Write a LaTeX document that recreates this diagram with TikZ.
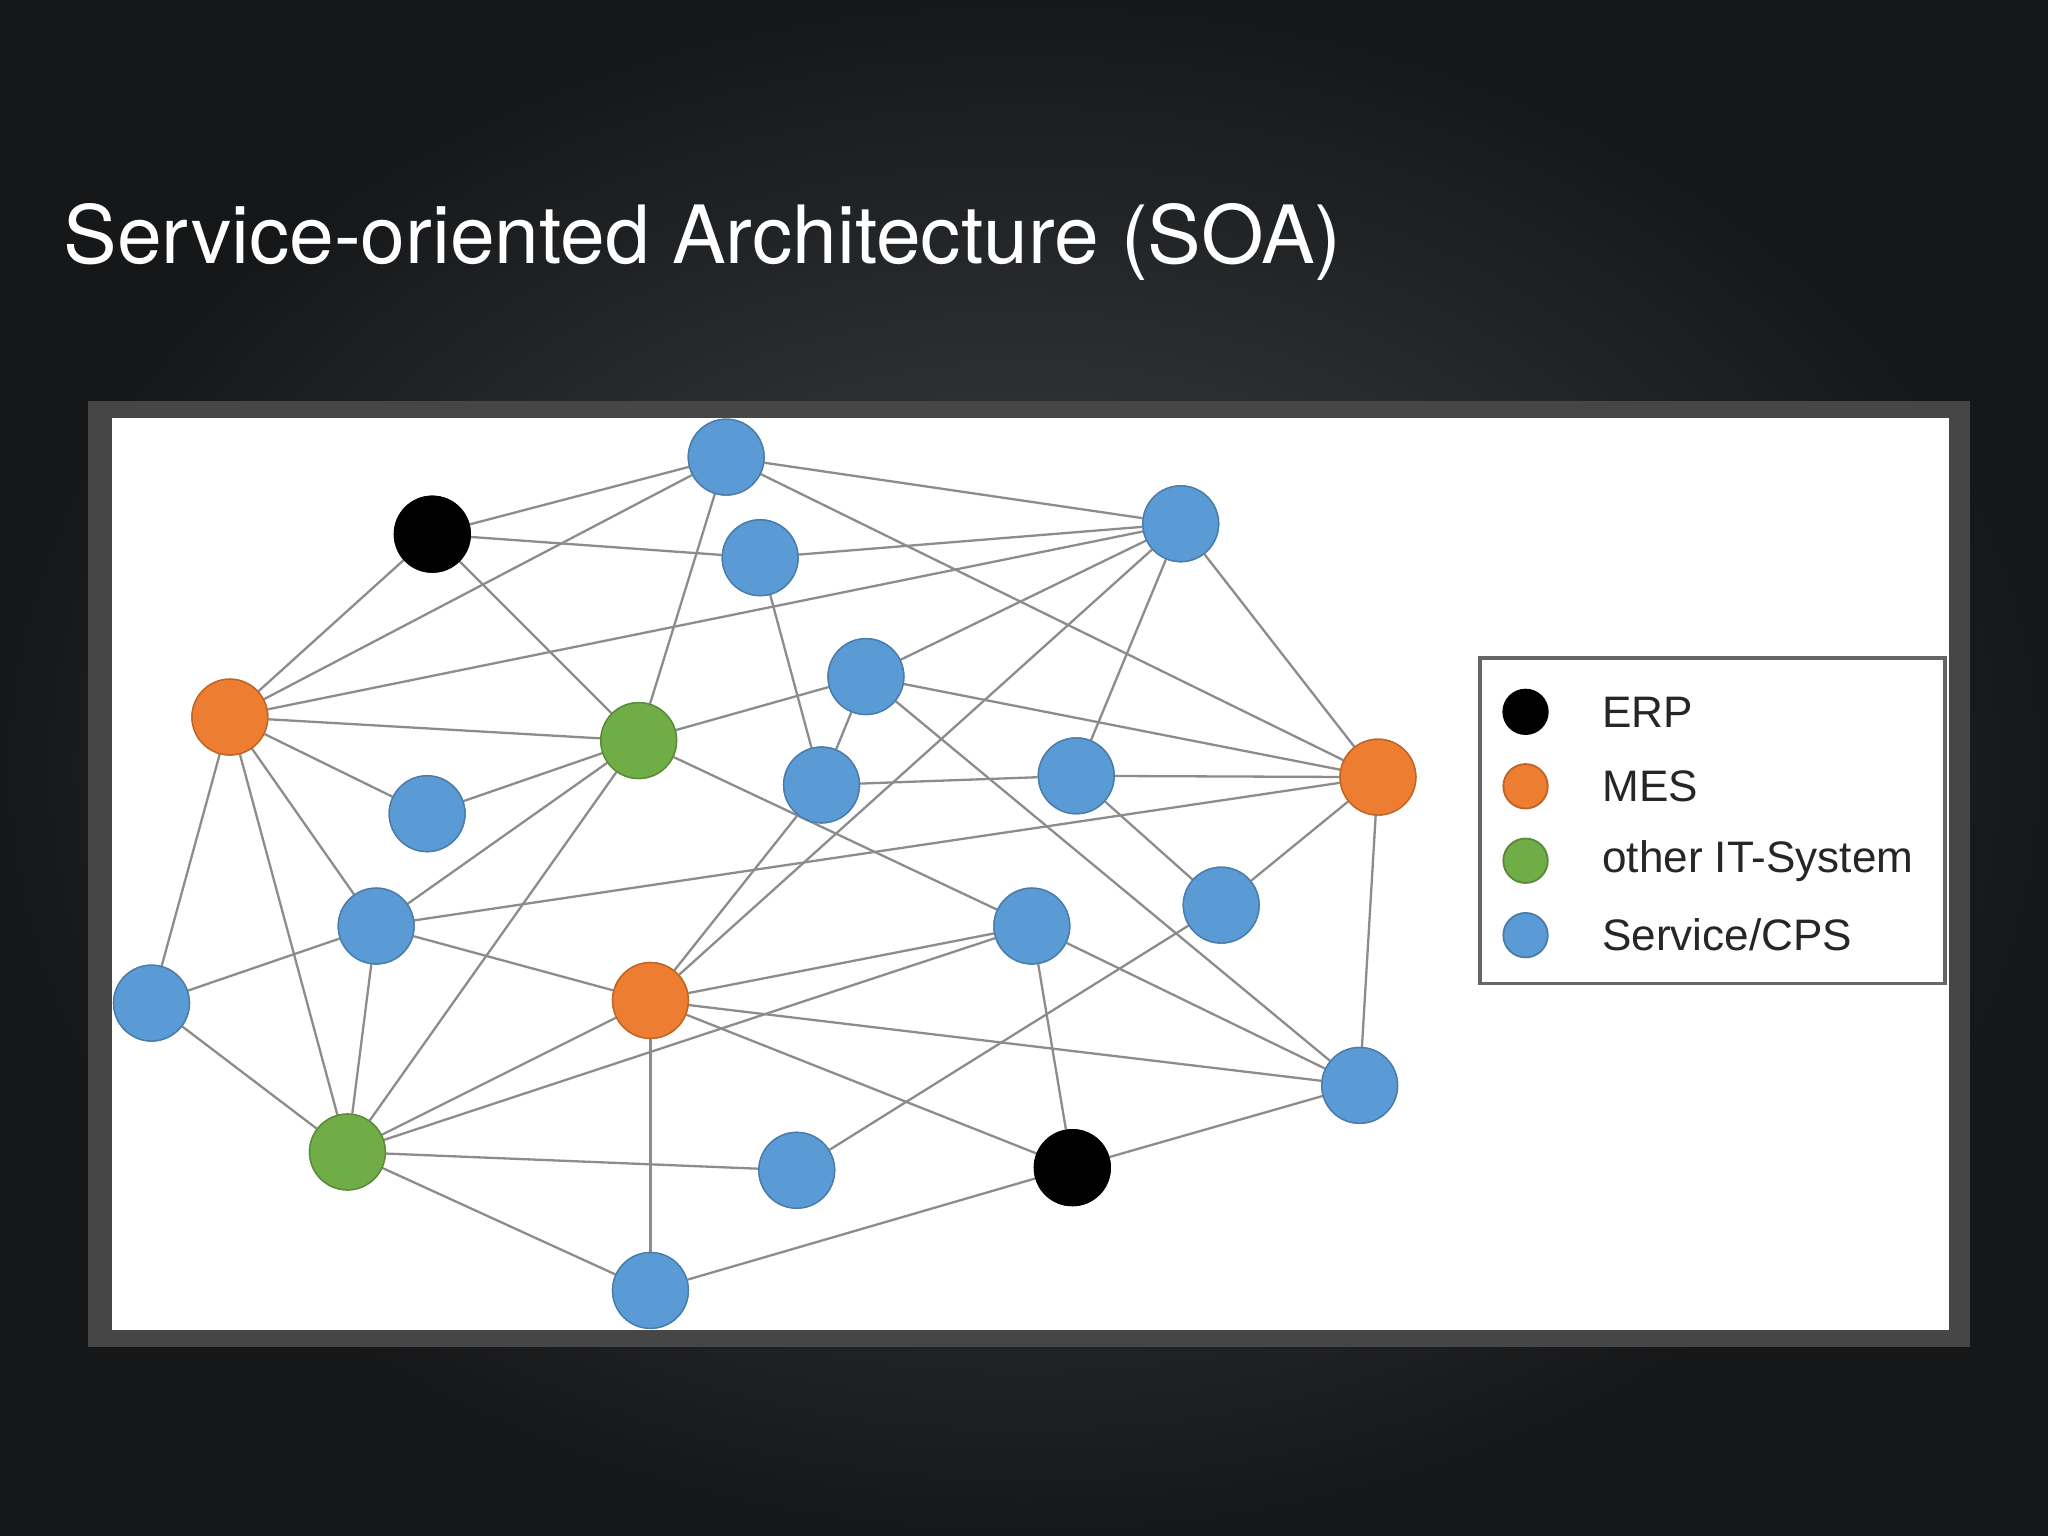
\documentclass[tikz,border=0pt]{standalone}
\usepackage{fontspec}
\setmainfont{Liberation Sans}
\newfontfamily\titlefont{TeX Gyre Heros}
\definecolor{cblue}{HTML}{5B9BD5}
\definecolor{corange}{HTML}{ED7D31}
\definecolor{cgreen}{HTML}{70AD47}
\definecolor{bgdark}{HTML}{1E2226}
\begin{document}
\begin{tikzpicture}[x=0.01cm,y=-0.01cm,
  nd/.style={circle,minimum size=0.58cm,inner sep=0pt,draw=#1!80!black,fill=#1,line width=0.3pt},
  lg/.style={circle,minimum size=0.34cm,inner sep=0pt,draw=#1!80!black,fill=#1},
  ed/.style={draw=gray!90,line width=0.5pt}]
\useasboundingbox (0,0) rectangle (1568,1176);
\shade[inner color=bgdark!60!gray!80,outer color=black!95] (0,0) rectangle (1568,1176);
\fill[bgdark,opacity=0.5] (0,0) rectangle (1568,1176);
\node[anchor=base west,text=white,inner sep=0pt,font=\titlefont\fontsize{17.5pt}{20pt}\selectfont] (title) at (48,202) {Service-oriented Architecture (SOA)};
\fill[gray!55!black] (67,307) rectangle (1508,1031);
\fill[white] (86,320) rectangle (1492,1018);
\node[nd=cblue] (A) at (556,350) {};
\node[nd=black] (B) at (331,409) {};
\node[nd=cblue] (C) at (582,427) {};
\node[nd=cblue] (D) at (904,401) {};
\node[nd=corange] (E) at (176,549) {};
\node[nd=cgreen] (F) at (489,567) {};
\node[nd=cblue] (G) at (663,518) {};
\node[nd=cblue] (H) at (327,623) {};
\node[nd=cblue] (I) at (629,601) {};
\node[nd=cblue] (J) at (824,594) {};
\node[nd=corange] (K) at (1055,595) {};
\node[nd=cblue] (L) at (288,709) {};
\node[nd=cblue] (M) at (935,693) {};
\node[nd=cblue] (N) at (790,709) {};
\node[nd=cblue] (O) at (116,768) {};
\node[nd=corange] (P) at (498,766) {};
\node[nd=cblue] (Q) at (1041,831) {};
\node[nd=cgreen] (R) at (266,882) {};
\node[nd=cblue] (S) at (610,896) {};
\node[nd=black] (T) at (821,894) {};
\node[nd=cblue] (U) at (498,988) {};
\foreach \a/\b in {A/B,A/E,A/D,A/F,A/K,B/C,C/D,B/E,B/F,E/D,E/F,E/H,E/L,E/O,E/R,C/I,D/G,D/J,D/K,D/P,G/F,G/I,G/K,G/Q,F/H,F/L,F/R,F/N,I/J,I/P,J/K,J/M,K/L,K/M,K/Q,M/S,N/P,N/R,N/T,N/Q,L/O,L/P,L/R,O/R,P/R,P/Q,P/T,P/U,R/S,R/U,T/U,T/Q}
  \draw[ed] (\a) -- (\b);
\foreach \n/\c in {A/cblue,B/black,C/cblue,D/cblue,E/corange,F/cgreen,G/cblue,H/cblue,I/cblue,J/cblue,K/corange,L/cblue,M/cblue,N/cblue,O/cblue,P/corange,Q/cblue,R/cgreen,S/cblue,T/black,U/cblue}
  \node[nd=\c] at (\n) {};
\draw[gray!80!black,line width=0.8pt] (1133,504) rectangle (1489,753);
\node[lg=black] (l1) at (1168,545) {};
\node[lg=corange] (l2) at (1168,602) {};
\node[lg=cgreen] (l3) at (1168,659) {};
\node[lg=cblue] (l4) at (1168,716) {};
\foreach \l/\t in {l1/{ERP},l2/{MES},l3/{other IT-System},l4/{Service/CPS}}
  \node[anchor=west,font=\fontsize{9.6pt}{12pt}\selectfont,text=black!85,inner sep=0pt] at ([xshift=0.58cm]\l.center) {\t};
\end{tikzpicture}
\end{document}
